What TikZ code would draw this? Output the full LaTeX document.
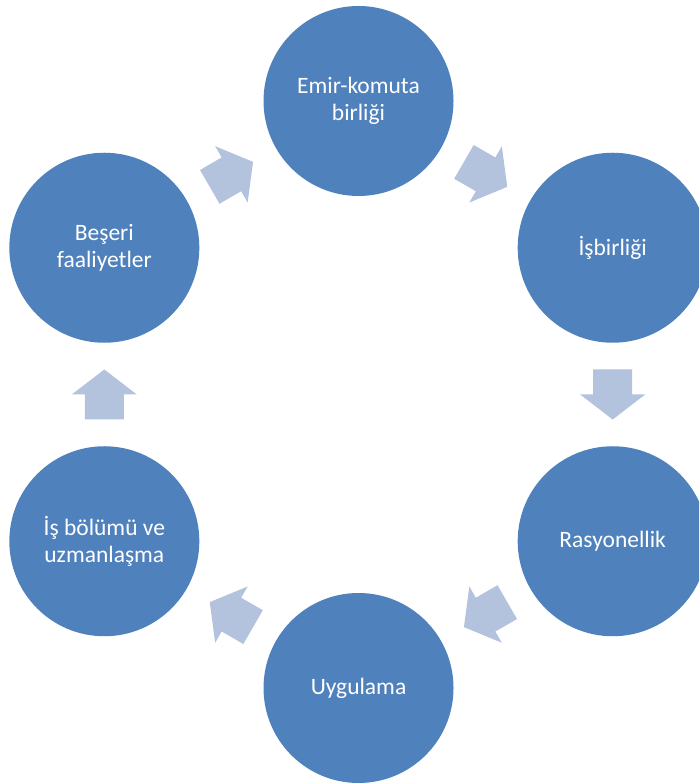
\documentclass[tikz,border=0pt]{standalone}
\usepackage{fontspec}
\setmainfont{Carlito}
\usetikzlibrary{calc}

\definecolor{circleblue}{HTML}{4F81BD}
\definecolor{arrowblue}{HTML}{B3C2DD}

\tikzset{
  stage/.style={circle, fill=circleblue, minimum size=190pt, inner sep=0pt,
                align=center, text=white, font=\fontsize{23.5}{27}\selectfont},
  blockarrow/.style={fill=arrowblue},
}

\begin{document}
\begin{tikzpicture}[x=1pt,y=1pt]

\useasboundingbox (0,0) rectangle (699,783);
\clip (0,0) rectangle (699,783);

\coordinate (c) at (358.5,388.5);

%circles
\node[stage] (n0) at ($(c)+(90:293.5)$)   {Emir-komuta\\birliği};
\node[stage] (n1) at ($(c)+(30:293.5)$)   {İşbirliği};
\node[stage] (n2) at ($(c)+(-30:293.5)$)  {Rasyonellik};
\node[stage] (n3) at ($(c)+(-90:293.5)$)  {Uygulama};
\node[stage] (n4) at ($(c)+(-150:293.5)$) {İş bölümü ve\\uzmanlaşma};
\node[stage] (n5) at ($(c)+(150:293.5)$)  {Beşeri\\faaliyetler};

%arrows
\foreach \i/\j in {0/1,1/2,2/3,3/4,4/5,5/0}
  \fill[blockarrow, shift={($(n\i)!0.5!(n\j)$)}, rotate={-30-60*\i}]
    (-25,-19.5) -- (0,-19.5) -- (0,-32.5) -- (25,0) -- (0,32.5) -- (0,19.5) -- (-25,19.5) -- cycle;

\end{tikzpicture}
\end{document}
